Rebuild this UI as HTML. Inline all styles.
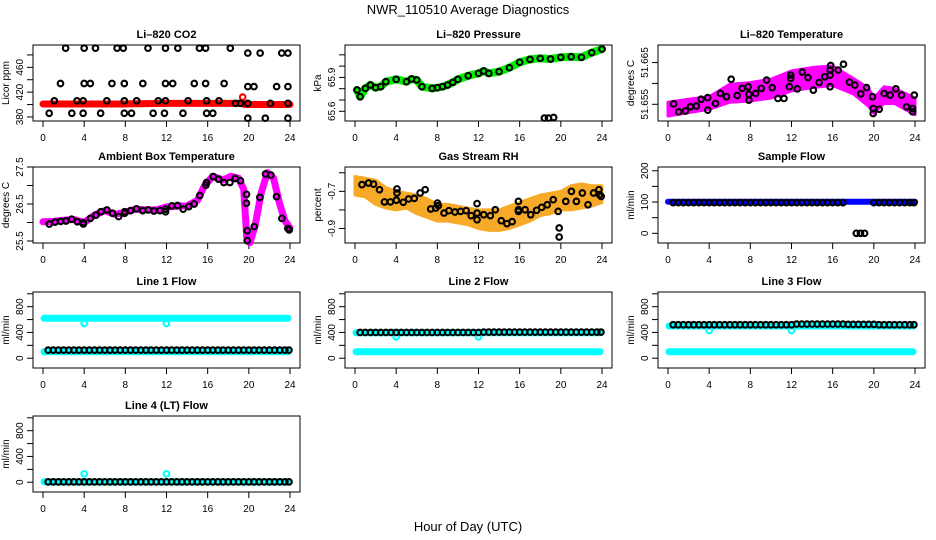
<!DOCTYPE html>
<html><head><meta charset="utf-8"><style>
html,body{margin:0;padding:0;background:#fff;}
svg{display:block;font-family:"Liberation Sans",sans-serif;}
</style></head><body>
<svg id="c" width="936" height="540" viewBox="0 0 936 540" xmlns="http://www.w3.org/2000/svg">
<text x="468" y="14" text-anchor="middle" font-size="13">NWR_110510  Average Diagnostics</text>
<text x="468" y="531" text-anchor="middle" font-size="13">Hour of Day (UTC)</text>
</svg>
<script>
// ---- data ----
const xTicks=[0,4,8,12,16,20,24];
const halfHours=[0.5,1,1.5,2,2.5,3,3.5,4,4.5,5,5.5,6,6.5,7,7.5,8,8.5,9,9.5,10,10.5,11,11.5,12,12.5,13,13.5,14,14.5,15,15.5,16,16.5,17,17.5,18,18.5,19,19.5,20,20.5,21,21.5,22,22.5,23,23.5,23.9];
// CO2
const co2BlkH=[2.2,4.0,5.1,7.2,7.8,10.2,11.9,13.1,15.2,15.8,18.2,19.9,21.1,23.2,23.8,1.7,4.0,4.6,6.7,7.9,9.7,11.9,12.6,14.7,15.8,17.6,19.9,20.5,22.7,23.8,1.1,3.3,3.9,6.2,7.9,9.1,11.2,11.9,14.1,15.9,17.1,18.7,19.2,19.9,22.1,23.8,0.6,2.8,3.9,5.6,7.9,8.6,10.7,11.8,13.6,15.9,16.5,19.9,21.6,23.8];
const co2BlkV=[491,491,491,491,491,491,491,491,491,491,491,483,483,483,483,434,434,434,434,434,434,434,434,434,434,434,429,429,429,429,406,406,406,406,406,406,406,406,406,406,406,402,402,402,402,402,386,386,386,386,386,386,386,386,386,386,386,378,378,378];
const co2RedH=[0,4,8,12,16,19.4,19.6,24];
const co2RedV=[401,401,401,402,402,402,400,400];
const co2RedOutH=[19.4];const co2RedOutV=[412];
// Pressure
const presH=[0.2,0.5,1,1.5,2,2.5,3,4,5,5.5,6,6.5,7.5,8,8.5,9,9.5,10,11,12,12.5,13,14,15,16,17,18,19,20,21,22,23,24];
const presV=[65.789,65.729,65.803,65.833,65.809,65.818,65.862,65.883,65.862,65.886,65.877,65.818,65.803,65.809,65.818,65.833,65.856,65.883,65.915,65.936,65.957,65.936,65.951,65.986,66.034,66.06,66.069,66.063,66.078,66.083,66.078,66.119,66.151];
const presOutH=[18.4,18.8,19.3];const presOutV=[65.54,65.54,65.545];
// Li-820 temperature
const tempBandH=[0,2,4,6,8,10,12,14,16,18,19.5,20,21,22,24];
const tempBandLo=[51.6522,51.653,51.6538,51.6555,51.6558,51.6565,51.6582,51.659,51.6595,51.6575,51.6545,51.6528,51.6552,51.6552,51.6525];
const tempBandHi=[51.6555,51.6562,51.6568,51.6598,51.6602,51.661,51.663,51.6638,51.6642,51.6612,51.6588,51.6565,51.6592,51.6588,51.6565];
const tempBlkH=[0.55,1.04,1.69,2.18,2.76,3.21,3.86,3.86,4.61,5.1,5.68,6.72,6.14,7.21,7.79,7.86,7.86,8.51,9.06,9.58,10.13,10.68,11.27,11.79,11.92,11.92,12.56,13.05,13.6,14.12,14.68,15.23,15.75,15.75,15.75,15.81,16.53,17.05,17.63,18.15,18.73,19.29,19.87,19.94,19.94,20.52,21.0,21.59,22.14,22.69,23.18,23.77,23.77,23.93];
const tempBlkV=[51.6551,51.6532,51.6534,51.6544,51.6546,51.6562,51.6536,51.6566,51.6552,51.6576,51.6568,51.6571,51.661,51.6588,51.6592,51.6574,51.656,51.6576,51.6588,51.6608,51.659,51.6564,51.6564,51.6592,51.6612,51.662,51.6587,51.6627,51.6614,51.6584,51.6602,51.6616,51.6592,51.662,51.6632,51.6643,51.6632,51.6646,51.6603,51.6596,51.6575,51.659,51.6568,51.654,51.6528,51.6538,51.6576,51.6572,51.6587,51.6572,51.6544,51.654,51.6532,51.6572];
// Ambient
const ambLineH=[0,1,2,3,4,5,6,7,8,9,10,11,12,13,14,15,15.7,16.5,17.5,18.3,19,19.5,19.8,20.1,20.6,21.2,21.8,22.4,23,23.5,24];
const ambLineV=[26.02,26.03,26.06,26.08,26.0,26.2,26.32,26.22,26.28,26.36,26.34,26.34,26.42,26.44,26.45,26.6,27.0,27.25,27.15,27.25,27.2,26.9,25.6,25.45,25.9,26.8,27.35,27.2,26.5,26.05,25.85];
const ambBlkH=[0.61,1.17,1.72,2.23,2.78,3.33,3.92,3.92,4.6,5.15,5.63,6.21,6.76,7.35,7.93,7.93,8.51,9.09,9.68,10.23,10.78,11.36,11.91,11.91,12.52,13.07,13.62,14.17,14.69,15.24,15.83,15.89,16.54,17.05,17.57,18.16,18.67,19.19,19.77,19.77,19.84,19.84,20.52,21.07,21.62,22.14,22.69,23.21,23.79,23.92];
const ambBlkV=[25.96,26.01,26.03,26.04,26.09,26.02,25.995,25.96,26.11,26.2,26.29,26.34,26.25,26.16,26.25,26.29,26.32,26.37,26.32,26.34,26.31,26.32,26.29,26.36,26.45,26.46,26.36,26.43,26.5,26.73,27.01,27.08,27.24,27.17,27.08,27.08,27.19,27.13,26.76,26.52,25.78,25.51,25.89,26.68,27.31,27.28,26.7,26.11,25.84,25.8];
// Gas stream RH
const rhBandH=[0,1,2,3,4,5,6,7,8,9,10,11,12,13,14,15,16,17,18,19,20,21,22,23,24];
const rhBandLo=[-0.72,-0.73,-0.77,-0.79,-0.80,-0.79,-0.82,-0.84,-0.86,-0.86,-0.87,-0.88,-0.90,-0.91,-0.91,-0.90,-0.88,-0.86,-0.83,-0.82,-0.80,-0.80,-0.79,-0.78,-0.76];
const rhBandHi=[-0.62,-0.63,-0.64,-0.68,-0.70,-0.71,-0.72,-0.74,-0.77,-0.77,-0.78,-0.79,-0.80,-0.80,-0.80,-0.78,-0.76,-0.74,-0.72,-0.71,-0.70,-0.67,-0.66,-0.67,-0.67];
const rhBlkH=[0.68,1.32,1.8,2.38,2.86,3.44,4.02,4.08,4.08,4.69,5.21,5.76,6.33,6.82,7.36,7.85,8.01,8.1,8.65,9.13,9.71,10.26,10.8,11.29,11.86,11.86,11.86,12.51,13.15,13.63,14.21,14.76,15.27,15.88,15.88,15.88,16.53,17.07,17.65,18.14,18.68,19.26,19.74,19.84,19.84,20.48,21.03,21.51,22.09,22.64,23.18,23.7,23.76,23.92];
const rhBlkV=[-0.664,-0.655,-0.661,-0.691,-0.757,-0.757,-0.748,-0.687,-0.709,-0.759,-0.741,-0.738,-0.709,-0.691,-0.795,-0.79,-0.763,-0.777,-0.817,-0.804,-0.811,-0.808,-0.804,-0.831,-0.766,-0.817,-0.853,-0.826,-0.831,-0.799,-0.858,-0.874,-0.863,-0.754,-0.799,-0.808,-0.799,-0.826,-0.802,-0.786,-0.772,-0.745,-0.808,-0.897,-0.946,-0.754,-0.7,-0.754,-0.709,-0.772,-0.709,-0.691,-0.718,-0.727];
// Sample flow
const sampBlueH=[0,24];const sampBlueV=[101,101];
const sampBlkV=[98,98,98,98,98,98,98,98,98,98,98,98,98,98,98,98,98,98,98,98,98,98,98,98,98,98,98,98,98,98,98,98,98,98,null,null,null,null,null,98,98,98,98,98,98,98,98,98];
const sampZeroH=[18.3,18.7,19.1];const sampZeroV=[0,0,0];
// Line flows
const lineBandH=[0.1,23.8];
const line1Cyan=[[620,620],[100,100]];const line1DipV=[540,540];
const line2Cyan=[[395,395],[100,100]];const line2DipV=[330,330];
const line3Cyan=[[500,500],[100,100]];const line3DipV=[430,430];
const line4Cyan=[[5,5]];const line4DipV=[130,130];
const dipH=[4,12];
const line1Blk=[125,125,125,125,125,125,125,125,125,125,125,125,125,125,125,125,125,125,125,125,125,125,125,125,125,125,125,125,125,125,125,125,125,125,125,125,125,125,125,125,125,125,125,125,125,125,125,125];
const line2Blk=[400,400,400,400,400,400,400,400,400,400,400,400,400,400,400,400,400,400,400,400,400,400,400,400,405,405,405,405,405,405,405,405,405,405,405,405,405,405,405,405,405,405,405,405,405,405,405,405];
const line3Blk=[520,520,520,520,520,520,520,520,520,520,520,520,520,520,520,520,520,520,520,520,520,520,520,520,530,530,530,530,530,530,530,530,530,530,525,525,525,525,525,525,520,520,520,520,520,520,520,520];
const line4Blk=[5,5,5,5,5,5,5,5,5,5,5,5,5,5,5,5,5,5,5,5,5,5,5,5,5,5,5,5,5,5,5,5,5,5,5,5,5,5,5,5,5,5,5,5,5,5,5,5];

// ---- drawing ----
const svg=document.getElementById('c');
const NS='http://www.w3.org/2000/svg';
const colLeft=[33,345,658],rowTop=[45,167,292,416],W=267,H=76;
function mk(tag,attrs,parent){const e=document.createElementNS(NS,tag);for(const k in attrs)e.setAttribute(k,attrs[k]);(parent||svg).appendChild(e);return e;}
function panel(name,col,row,title,ylab,ymin,ymax,ticks,labels){
  const L=colLeft[col],T=rowTop[row];
  const g=mk('g',{});
  
  
  const sx=h=>L+10+h/24*247, sy=v=>T+H-(v-ymin)/(ymax-ymin)*H;
  const box=mk('rect',{x:L,y:T,width:W,height:H,fill:'none',stroke:'#000','stroke-width':1},g);
  
  
  const t=mk('text',{x:L+W/2,y:T-7,'text-anchor':'middle','font-size':11,'font-weight':'bold'},g);t.textContent=title;
  
  
  const xa=mk('g',{},g);
  
  
  xTicks.forEach(v=>{const x=sx(v);mk('line',{x1:x,x2:x,y1:T+H,y2:T+H+6,stroke:'#000'},xa);
    const tx=mk('text',{x:x,y:T+H+20,'text-anchor':'middle','font-size':10},xa);tx.textContent=v;});
  const ya=mk('g',{},g);
  
  
  ticks.forEach(v=>{const y=sy(v);mk('line',{x1:L-6,x2:L,y1:y,y2:y,stroke:'#000'},ya);});
  labels.forEach(v=>{const y=sy(v);const tx=mk('text',{x:0,y:0,'text-anchor':'middle','font-size':10,transform:`translate(${L-10},${y}) rotate(-90)`},ya);tx.textContent=v;});
  const yl=mk('text',{x:0,y:0,'text-anchor':'middle','font-size':10,transform:`translate(${L-24},${T+H/2}) rotate(-90)`},g);yl.textContent=ylab;
  
  
  return {g,sx,sy};
}
function pts(P,H_,V,color,name,r){const gg=mk('g',{},P.g);
  
  
  H_.forEach((h,i)=>{if(V[i]==null)return;mk('circle',{cx:P.sx(h),cy:P.sy(V[i]),r:r||2.8,fill:'none',stroke:color,'stroke-width':2.1},gg);});}
function line(P,H_,V,color,w,name){const p=mk('polyline',{points:H_.map((h,i)=>P.sx(h)+','+P.sy(V[i])).join(' '),fill:'none',stroke:color,'stroke-width':w,'stroke-linecap':'round','stroke-linejoin':'round'},P.g);
  
  }
function band(P,H_,lo,hi,color,name){const a=H_.map((h,i)=>P.sx(h)+','+P.sy(hi[i]));const b=H_.map((h,i)=>P.sx(h)+','+P.sy(lo[i])).reverse();
  const p=mk('polygon',{points:a.concat(b).join(' '),fill:color,stroke:color,'stroke-width':3,'stroke-linejoin':'round'},P.g);
  
  }

// CO2
let P=panel('co2',0,0,'Li\u2013820 CO2','Licor ppm',373.5,496,[380,400,420,440,460,480],[380,420,460]);
line(P,co2RedH,co2RedV,'#ff0000',7,'co2-red-series');
pts(P,co2RedOutH,co2RedOutV,'#ff0000','co2-red-outlier');
pts(P,co2BlkH,co2BlkV,'#000','co2-black-points');
// Pressure
P=panel('pressure',1,0,'Li\u2013820 Pressure','kPa',65.514,66.187,[65.6,65.7,65.8,65.9,66.0,66.1],[65.6,65.9]);
line(P,presH,presV,'#00ee00',8,'pressure-green-series');
pts(P,presH,presV,'#000','pressure-black-points');
pts(P,presOutH,presOutV,'#000','pressure-outliers');
// Temperature
P=panel('li820-temp',2,0,'Li\u2013820 Temperature','degrees C',51.651,51.6692,[51.655,51.66,51.665],[51.655,51.665]);
band(P,tempBandH,tempBandLo,tempBandHi,'#ff00ff','temp-magenta-band');
pts(P,tempBlkH,tempBlkV,'#000','temp-black-points');
// Ambient
P=panel('ambient',0,1,'Ambient Box Temperature','degrees C',25.446,27.5,[25.5,26,26.5,27,27.5],[25.5,26.5,27.5]);
line(P,ambLineH,ambLineV,'#ff00ff',7,'ambient-magenta-series');
pts(P,ambBlkH,ambBlkV,'#000','ambient-black-points');
// RH
P=panel('rh',1,1,'Gas Stream RH','percent',-0.978,-0.569,[-0.9,-0.8,-0.7,-0.6],[-0.9,-0.7]);
band(P,rhBandH,rhBandLo,rhBandHi,'#f6aa28','rh-orange-band');
pts(P,rhBlkH,rhBlkV,'#000','rh-black-points');
// Sample flow
P=panel('sample-flow',2,1,'Sample Flow','ml/min',-31,212,[0,50,100,150,200],[0,100,200]);
line(P,sampBlueH,sampBlueV,'#0000ff',6,'sample-blue-series');
pts(P,halfHours,sampBlkV,'#000','sample-black-points');
pts(P,sampZeroH,sampZeroV,'#000','sample-zero-points');
// Line flows
const flowTicks=[0,200,400,600,800,1000],flowLabels=[0,400,800];
const lines=[['line1',0,2,'Line 1 Flow',line1Cyan,line1DipV,line1Blk],['line2',1,2,'Line 2 Flow',line2Cyan,line2DipV,line2Blk],['line3',2,2,'Line 3 Flow',line3Cyan,line3DipV,line3Blk],['line4',0,3,'Line 4 (LT) Flow',line4Cyan,line4DipV,line4Blk]];
lines.forEach(([n,c,r,t,cy,dip,blk])=>{
  const Q=panel(n,c,r,t,'ml/min',-152,1028,flowTicks,flowLabels);
  cy.forEach((vals,i)=>line(Q,lineBandH,vals,'#00ffff',7,n+'-cyan-series-'+i));
  pts(Q,dipH,dip,'#00ffff',n+'-cyan-dips');
  pts(Q,halfHours,blk,'#000',n+'-black-points');
});
</script>
</body></html>
